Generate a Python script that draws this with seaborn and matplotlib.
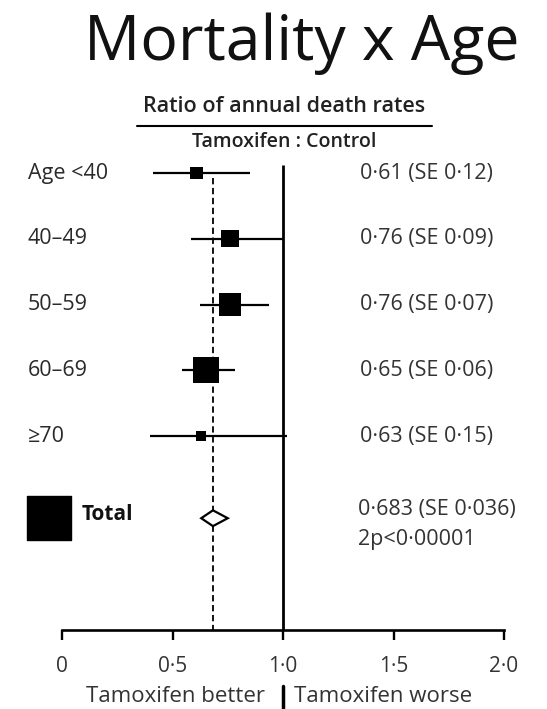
import matplotlib
matplotlib.use("Agg")
import matplotlib.pyplot as plt
import seaborn as sns
import pandas as pd
from matplotlib.patches import Polygon
from matplotlib.transforms import blended_transform_factory

# ---- data ----
groups = ["Age <40", "40–49", "50–59", "60–69", "≥70"]
ratios = [0.61, 0.76, 0.76, 0.65, 0.63]
ses = [0.12, 0.09, 0.07, 0.06, 0.15]
ci_low = [0.41, 0.585, 0.625, 0.545, 0.40]
ci_high = [0.85, 1.00, 0.935, 0.785, 1.02]
value_labels = ["0·61 (SE 0·12)", "0·76 (SE 0·09)", "0·76 (SE 0·07)",
                "0·65 (SE 0·06)", "0·63 (SE 0·15)"]
total_ratio = 0.683
total_low = 0.63
total_high = 0.75
total_label = "0·683 (SE 0·036)"
total_p = "2p<0·00001"
xtick_values = [0, 0.5, 1.0, 1.5, 2.0]
xtick_labels = ["0", "0·5", "1·0", "1·5", "2·0"]

sns.set_style("white")
plt.rcParams["font.family"] = ["Open Sans", "DejaVu Sans"]

W, H = 547, 709
fig = plt.figure(figsize=(W / 100, H / 100), dpi=100)
ax = fig.add_axes([62 / W, (H - 630) / H, (504 - 62) / W, (630 - 150) / H])

df = pd.DataFrame({"group": groups, "ratio": ratios, "se": ses,
                   "lo": ci_low, "hi": ci_high, "row": range(len(groups))})
total_row = len(groups) + 0.25

# confidence interval lines
ax.hlines(df["row"], df["lo"], df["hi"], color="black", lw=1.6, zorder=2)

# squares, side proportional to 1/SE
sizes = {g: (1.55 / s * 0.72) ** 2 for g, s in zip(groups, ses)}
sns.scatterplot(data=df, x="ratio", y="row", size="group", sizes=sizes,
                marker="s", color="black", edgecolor="black", linewidth=0,
                legend=False, ax=ax, zorder=3)
ax.set_xlabel("")
ax.set_ylabel("")

# reference lines
ax.vlines(1.0, -0.12, 6.95, color="black", lw=2.0, zorder=1)
ax.vlines(total_ratio, 0.08, 6.95, color="black", lw=1.3,
          linestyles=(0, (3.5, 2.0)), zorder=1)

# total diamond
dh = 0.12
diamond = Polygon([(total_low, total_row), (total_ratio, total_row - dh),
                   (total_high, total_row), (total_ratio, total_row + dh)],
                  closed=True, facecolor="white", edgecolor="black", lw=1.6, zorder=4)
ax.add_patch(diamond)

ax.set_xlim(0, 2)
ax.set_ylim(6.95, -0.35)
ax.set_xticks(xtick_values)
ax.set_xticklabels(xtick_labels, fontsize=15, color="#333333")
ax.set_yticks([])
for side in ["top", "left", "right"]:
    ax.spines[side].set_visible(False)
ax.spines["bottom"].set_linewidth(1.9)
ax.spines["bottom"].set_color("black")
ax.tick_params(axis="x", direction="out", length=7.5, width=1.7, pad=11,
               bottom=True, color="black")

trans = blended_transform_factory(fig.transFigure, ax.transData)
for r, (g, lab) in enumerate(zip(groups, value_labels)):
    ax.text(28 / W, r, g, transform=trans, fontsize=15.5, color="#2a2a2a",
            va="center", ha="left")
    ax.text(360 / W, r, lab, transform=trans, fontsize=15.5, color="#333333",
            va="center", ha="left")

# Total row
ax.scatter([-0.057], [total_row], marker="s", s=(44 * 0.72) ** 2, color="black",
           clip_on=False, zorder=3)
ax.text(82 / W, total_row - 0.06, "Total", transform=trans, fontsize=15,
        fontweight="bold", color="#111111", va="center", ha="left")
ax.text(358 / W, total_row - 0.14, total_label, transform=trans, fontsize=15.5,
        color="#333333", va="center", ha="left")
ax.text(358 / W, total_row + 0.33, total_p, transform=trans, fontsize=15.5,
        color="#333333", va="center", ha="left")

# header
fig.text(302 / W, 1 - 44 / H, "Mortality x Age", fontsize=45, ha="center",
         va="center", color="#111111")
fig.text(284 / W, 1 - 107 / H, "Ratio of annual death rates", fontsize=15.5,
         fontweight="semibold", ha="center", va="center", color="#222222")
fig.add_artist(plt.Line2D([137 / W, 432 / W], [1 - 126 / H, 1 - 126 / H],
                          color="black", lw=1.5, transform=fig.transFigure))
fig.text(284 / W, 1 - 142 / H, "Tamoxifen : Control", fontsize=14,
         fontweight="semibold", ha="center", va="center", color="#222222")

# bottom direction labels
fig.text(265 / W, 1 - 696 / H, "Tamoxifen better", fontsize=16, ha="right",
         va="center", color="#333333")
fig.text(294 / W, 1 - 696 / H, "Tamoxifen worse", fontsize=16, ha="left",
         va="center", color="#333333")
fig.add_artist(plt.Line2D([283 / W, 283 / W], [1 - 686 / H, 0],
                          color="black", lw=2.5, transform=fig.transFigure))

fig.savefig("out.png", dpi=100, facecolor="white")
